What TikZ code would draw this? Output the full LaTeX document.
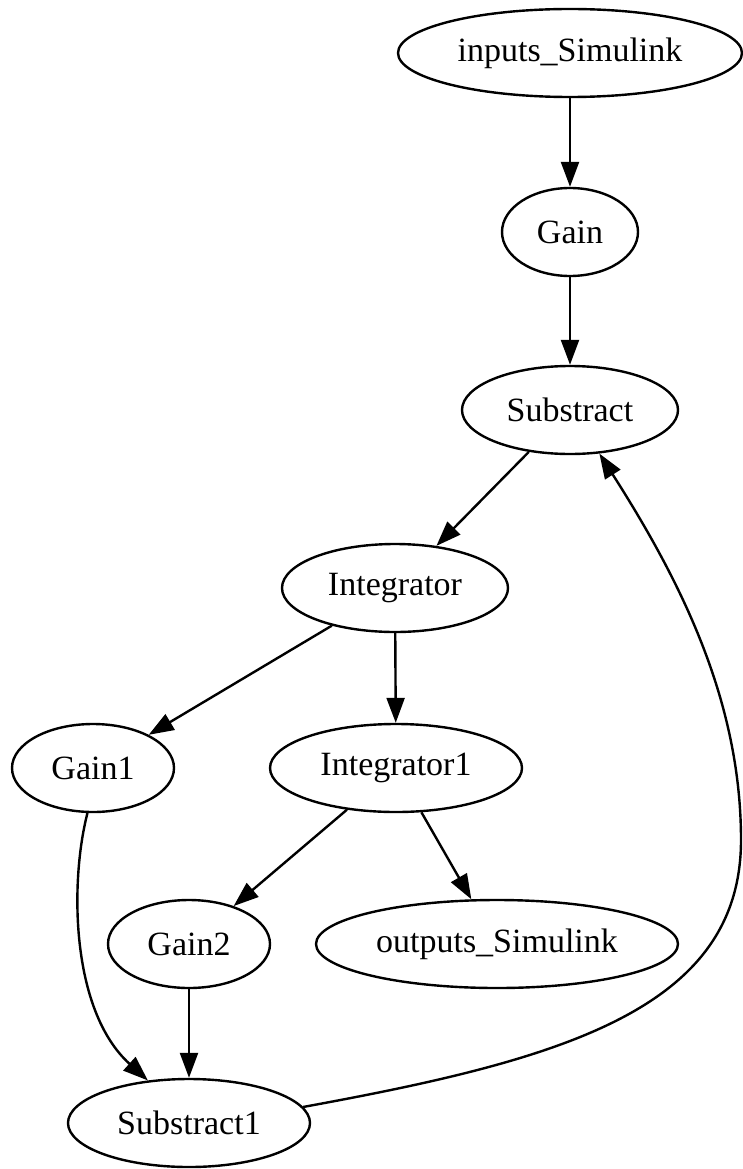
\documentclass[tikz,border=0pt]{standalone}
\usepackage{fontspec}
\setmainfont{Liberation Serif}
\usetikzlibrary{shapes.geometric,arrows.meta}
\begin{document}
\begin{tikzpicture}[x=1pt,y=-1pt,
  blk/.style={draw,ellipse,line width=2.4pt,inner sep=0pt,
    font=\fontsize{34}{40}\selectfont},
  edge/.style={line width=2.4pt,-{Triangle[length=25pt,width=18pt]}}]
  \useasboundingbox (0,0) rectangle (742,1169);
  \node[blk,minimum width=344,minimum height=88] (in)   at (570,53)   {inputs\_Simulink};
  \node[blk,minimum width=136,minimum height=88] (gain) at (570,232)  {Gain};
  \node[blk,minimum width=216,minimum height=88] (sub)  at (570,410)  {Substract};
  \node[blk,minimum width=226,minimum height=88] (int)  at (395,588)  {Integrator};
  \node[blk,minimum width=162,minimum height=88] (g1)   at (93,768)   {Gain1};
  \node[blk,minimum width=252,minimum height=88] (int1) at (396,768)  {Integrator1};
  \node[blk,minimum width=162,minimum height=88] (g2)   at (189,944)  {Gain2};
  \node[blk,minimum width=362,minimum height=88] (out)  at (497,944)  {outputs\_Simulink};
  \node[blk,minimum width=242,minimum height=88] (sub1) at (189,1123) {Substract1};

  \draw[edge] (in) -- (gain);
  \draw[edge] (gain) -- (sub);
  \draw[edge] (sub) -- (int);
  \draw[edge] (int) -- (g1);
  \draw[edge] (int) -- (int1);
  \draw[edge] (int1) -- (g2);
  \draw[edge] (int1) -- (out);
  \draw[edge] (g2) -- (sub1);
  \draw[edge] (g1.-97) .. controls (70,880) and (70,1010) .. (sub1.134);
  % feedback loop sweeping round the right-hand side
  \coordinate (turn) at (741,840);
  \draw[edge] (sub1.8) .. controls (560,1060) and (741,1010) .. (turn)
    .. controls (741,700) and (680,580) .. (sub.-56);
\end{tikzpicture}
\end{document}
